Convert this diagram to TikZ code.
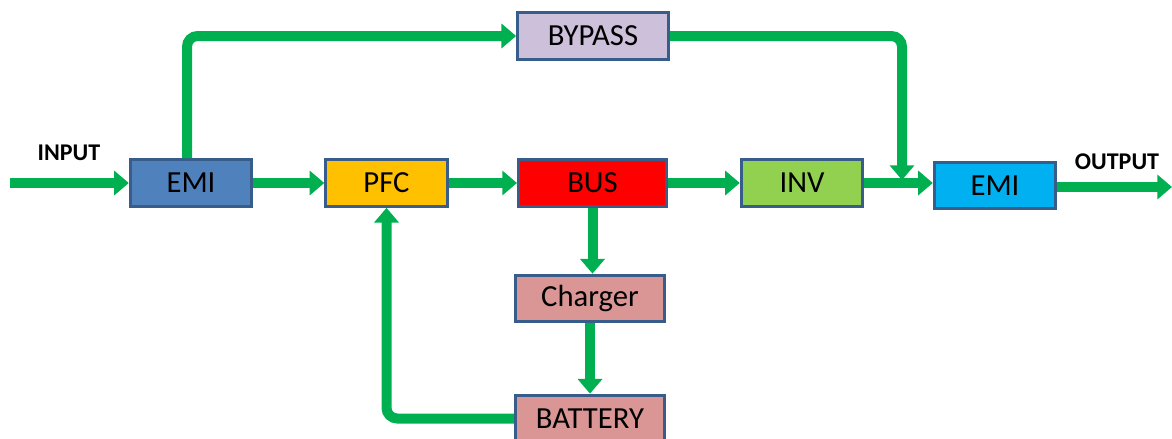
\documentclass[tikz,border=0pt]{standalone}
\usepackage{fontspec}
\setmainfont{Carlito}
\usetikzlibrary{arrows.meta}
\definecolor{flowgreen}{HTML}{00B050}
\definecolor{edgeblue}{HTML}{385D8A}
\begin{document}
\begin{tikzpicture}[x=0.75pt,y=-0.75pt,
  every node/.style={inner sep=0pt},
  blk/.style={draw=edgeblue,line width=2.3pt,minimum width=91pt,minimum height=35pt,font=\fontsize{23}{27}\selectfont},
  flow/.style={draw=flowgreen,line width=7.5pt,rounded corners=8pt,-{Triangle[length=11pt,width=18pt]}},
  tag/.style={font=\bfseries\fontsize{18}{21}\selectfont}]
\useasboundingbox (0,0) rectangle (1172,439);
\node[blk,fill={rgb,255:red,79;green,129;blue,189}] (emiA) at (191,183) {EMI};
\node[blk,fill={rgb,255:red,255;green,192;blue,0}] (pfc) at (386.5,183) {PFC};
\node[blk,fill=red,minimum width=111pt] (bus) at (592.5,183) {BUS};
\node[blk,fill={rgb,255:red,146;green,208;blue,80}] (inv) at (802,183) {INV};
\node[blk,fill={rgb,255:red,0;green,176;blue,240}] (emiB) at (995,185.5) {EMI};
\node[blk,fill={rgb,255:red,204;green,192;blue,218},minimum width=113pt] (bypass) at (593,36) {BYPASS};
\node[blk,fill={rgb,255:red,217;green,150;blue,148},minimum width=112pt] (charger) at (590,298.5) {Charger};
\node[blk,fill={rgb,255:red,217;green,150;blue,148},minimum width=112pt] (battery) at (590,418.5) {BATTERY};
\coordinate (in) at (10,183);
\coordinate (out) at (1172,187);
\coordinate (tap) at (902,180);
\node[tag] (inlbl) at (69,153) {INPUT};
\node[tag] (outlbl) at (1117,162) {OUTPUT};
% main line
\draw[flow] (in) -- (emiA);
\draw[flow] (emiA) -- (pfc);
\draw[flow] (pfc) -- (bus);
\draw[flow] (bus) -- (inv);
\draw[flow] (inv.east) -- (inv.east -| emiB.west);
\draw[flow] (emiB.east |- out) -- (out);
% bypass
\draw[flow] (emiA.north -| 187,0) |- (bypass.west);
\draw[flow] (bypass.east) -| (tap);
% battery loop
\draw[flow] (bus.south) -- (bus.south |- charger.north);
\draw[flow] (charger.south) -- (charger.south |- battery.north);
\draw[flow] (battery.west) -| (pfc.south);
\end{tikzpicture}
\end{document}
